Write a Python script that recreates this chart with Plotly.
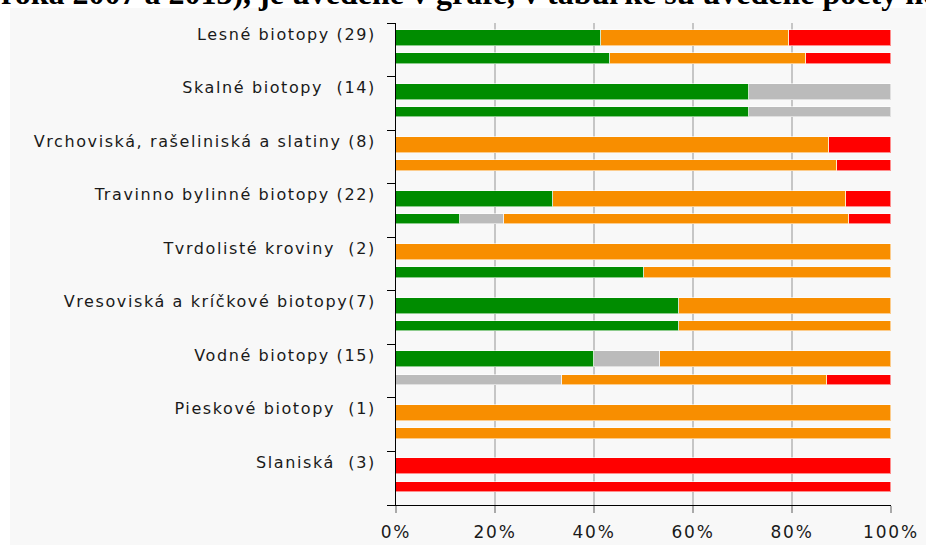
import plotly.graph_objects as go

# ---------------- data (percent of habitats per assessment category) ----------------
categories = [
    "Lesné biotopy (29)",
    "Skalné biotopy \u00a0(14)",
    "Vrchoviská, rašeliniská a slatiny (8)",
    "Travinno bylinné biotopy (22)",
    "Tvrdolisté kroviny \u00a0(2)",
    "Vresoviská a kríčkové biotopy(7)",
    "Vodné biotopy (15)",
    "Pieskové biotopy \u00a0(1)",
    "Slaniská \u00a0(3)",
]

# first (upper, thicker) bar of each category
green_a  = [41.4, 71.4, 0.0, 31.8, 0.0, 57.1, 40.0, 0.0, 0.0]
gray_a   = [0.0, 28.6, 0.0, 0.0, 0.0, 0.0, 13.3, 0.0, 0.0]
orange_a = [37.9, 0.0, 87.5, 59.1, 100.0, 42.9, 46.7, 100.0, 0.0]
red_a    = [20.7, 0.0, 12.5, 9.1, 0.0, 0.0, 0.0, 0.0, 100.0]

# second (lower, thinner) bar of each category
green_b  = [43.2, 71.4, 0.0, 13.0, 50.0, 57.1, 0.0, 0.0, 0.0]
gray_b   = [0.0, 28.6, 0.0, 8.9, 0.0, 0.0, 33.5, 0.0, 0.0]
orange_b = [39.6, 0.0, 89.0, 69.6, 50.0, 42.9, 53.6, 100.0, 0.0]
red_b    = [17.2, 0.0, 11.0, 8.5, 0.0, 0.0, 12.9, 0.0, 100.0]

x_ticks = [0, 20, 40, 60, 80, 100]
x_ticklabels = ["0%", "20%", "40%", "60%", "80%", "100%"]

header_text = "roka 2007 a 2013), je uvedené v grafe, v tabuľke sú uvedené počty hodnotení"

series = [
    ("priaznivý", green_a, green_b, "#008C00"),
    ("neznámy", gray_a, gray_b, "#BBBBBB"),
    ("nepriaznivý – nevyhovujúci", orange_a, orange_b, "#F88E00"),
    ("nepriaznivý – zlý", red_a, red_b, "#FF0000"),
]

# ---------------- layout helpers ----------------
n = len(categories)
pos_a = [i + 0.28 for i in range(n)]
pos_b = [i + 0.662 for i in range(n)]
w_a, w_b = 0.30, 0.194

fig = go.Figure()
for name, va, vb, col in series:
    vals = [v if v > 0 else None for v in va + vb]
    fig.add_trace(go.Bar(
        name=name,
        x=vals,
        y=pos_a + pos_b,
        width=[w_a] * n + [w_b] * n,
        orientation="h",
        marker=dict(color=col, line=dict(color="rgba(255,255,255,0.55)", width=1)),
        showlegend=False,
    ))

L, R, T, B = 396, 35, 23, 40
W, H = 926, 545
pw, ph = W - L - R, H - T - B

def px2x(p):
    return (p - L) / pw

def py2y(p):
    return (H - B - p) / ph

fig.update_layout(
    width=W, height=H,
    margin=dict(l=L, r=R, t=T, b=B, pad=0, autoexpand=False),
    barmode="stack",
    paper_bgcolor="white",
    plot_bgcolor="#F8F8F8",
    bargap=0,
    shapes=[dict(type="rect", xref="paper", yref="paper",
                 x0=px2x(10), x1=px2x(W + 20), y0=py2y(H + 20), y1=py2y(8),
                 fillcolor="#F8F8F8", line=dict(width=0), layer="below")],
    annotations=[dict(
        text=header_text,
        xref="paper", yref="paper", x=px2x(-1), y=py2y(-7),
        xanchor="left", yanchor="middle", showarrow=False,
        font=dict(family="Liberation Serif", size=32, color="black", weight="bold"),
    )],
    xaxis=dict(
        range=[0, 100], tickvals=x_ticks, ticktext=x_ticklabels,
        ticks="outside", ticklen=7, tickwidth=2, tickcolor="#AAAAAA",
        showline=True, linecolor="black", linewidth=1,
        showgrid=True, gridcolor="#C6C6C6", gridwidth=2, zeroline=False,
        tickfont=dict(family="DejaVu Sans", size=17, color="#1a1a1a"),
        ticklabelstandoff=5, automargin=False, fixedrange=True,
    ),
    yaxis=dict(
        range=[n, 0], tickvals=[i + 0.205 for i in range(n)], ticktext=categories,
        ticks="outside", ticklen=16, tickcolor="rgba(0,0,0,0)",
        showline=True, linecolor="black", linewidth=1,
        showgrid=False, zeroline=False,
        minor=dict(tickvals=list(range(n + 1)), ticks="outside", ticklen=8,
                   tickcolor="black", tickwidth=1, showgrid=False),
        tickfont=dict(family="DejaVu Sans", size=16, color="#1a1a1a"),
        automargin=False, fixedrange=True,
    ),
)

post = """
document.body.style.margin='0';
var gd=document.getElementById('{plot_id}');
gd.querySelectorAll('.ytick text').forEach(function(t){t.style.letterSpacing='1.6px';});
gd.querySelectorAll('.xtick text').forEach(function(t){t.style.letterSpacing='1.8px';});
"""

fig.write_html("out.html", config={"displayModeBar": False, "responsive": False},
               post_script=post)
